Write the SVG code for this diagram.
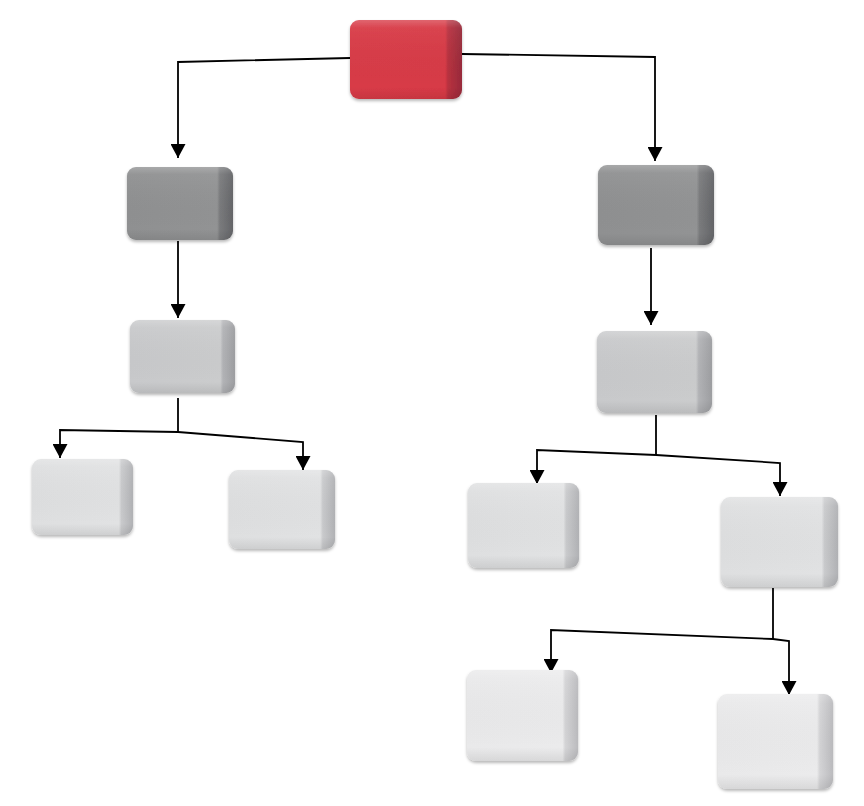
<svg xmlns="http://www.w3.org/2000/svg" width="864" height="806" viewBox="0 0 864 806">
<defs>
<style>
.conn{fill:none;stroke:#000;stroke-width:1.8;marker-end:url(#ah)}
.seg{fill:none;stroke:#000;stroke-width:1.8}
.box{filter:url(#sh)}
.hl{fill:url(#gHl)}
.r{fill:url(#gR)}
.d{fill:url(#gD)}
.m{fill:url(#gM)}
.l{fill:url(#gL)}
.w{fill:url(#gW)}
</style>
<marker id="ah" markerUnits="userSpaceOnUse" markerWidth="15" markerHeight="15" refX="14" refY="7.5" orient="auto">
<path d="M0,0 L14,7.5 L0,15 z" fill="#000"/>
</marker>
<filter id="sh" x="-20%" y="-20%" width="140%" height="150%">
<feDropShadow dx="0" dy="2" stdDeviation="1.8" flood-color="#000" flood-opacity="0.28"/>
</filter>
<linearGradient id="gHl" x1="0" y1="0" x2="0" y2="1">
<stop offset="0" stop-color="#fff" stop-opacity="0.22"/><stop offset="0.1" stop-color="#fff" stop-opacity="0.05"/><stop offset="0.85" stop-color="#000" stop-opacity="0"/><stop offset="1" stop-color="#000" stop-opacity="0.08"/>
</linearGradient>
<linearGradient id="gR" x1="0" y1="0" x2="1" y2="0"><stop offset="0" stop-color="#d83b47"/><stop offset="0.85" stop-color="#d73a46"/><stop offset="0.875" stop-color="#b8313f"/><stop offset="1" stop-color="#982a3a"/></linearGradient>
<linearGradient id="gD" x1="0" y1="0" x2="1" y2="0"><stop offset="0" stop-color="#8f9091"/><stop offset="0.85" stop-color="#929394"/><stop offset="0.875" stop-color="#7a7b7d"/><stop offset="1" stop-color="#646568"/></linearGradient>
<linearGradient id="gM" x1="0" y1="0" x2="1" y2="0"><stop offset="0" stop-color="#c8c9cb"/><stop offset="0.86" stop-color="#cbcccd"/><stop offset="0.885" stop-color="#b2b3b6"/><stop offset="1" stop-color="#9d9ea1"/></linearGradient>
<linearGradient id="gL" x1="0" y1="0" x2="1" y2="0"><stop offset="0" stop-color="#dedfe0"/><stop offset="0.86" stop-color="#e1e2e3"/><stop offset="0.885" stop-color="#c9cacc"/><stop offset="1" stop-color="#b1b2b5"/></linearGradient>
<linearGradient id="gW" x1="0" y1="0" x2="1" y2="0"><stop offset="0" stop-color="#e9e9ea"/><stop offset="0.86" stop-color="#ebebec"/><stop offset="0.885" stop-color="#d4d4d6"/><stop offset="1" stop-color="#bbbbbe"/></linearGradient>
</defs>
<rect width="864" height="806" fill="#fff"/>
<g id="connectors">
<path class="conn" d="M350,58 L178,62 V158"/>
<path class="conn" d="M462,54 L655,57 V161"/>
<path class="conn" d="M178,241 V318"/>
<path class="seg" d="M178,398 V432"/>
<path class="conn" d="M178,432 L60,430 V458"/>
<path class="conn" d="M178,432 L303,442 V470"/>
<path class="conn" d="M651,248 V325"/>
<path class="seg" d="M656,415 V455"/>
<path class="conn" d="M656,455 L537,450 V484"/>
<path class="conn" d="M656,455 L780,463 V496"/>
<path class="seg" d="M773,588 V639"/>
<path class="conn" d="M773,639 L551,630 V673"/>
<path class="conn" d="M773,639 L789,641 V695"/>
</g>
<g id="root" class="box"><rect class="r" x="350" y="20" width="112" height="79" rx="9"/><rect class="hl" x="350" y="20" width="112" height="79" rx="9"/></g>
<g id="l1a" class="box"><rect class="d" x="127" y="167" width="106" height="73" rx="9"/><rect class="hl" x="127" y="167" width="106" height="73" rx="9"/></g>
<g id="l1b" class="box"><rect class="d" x="598" y="165" width="116" height="80" rx="9"/><rect class="hl" x="598" y="165" width="116" height="80" rx="9"/></g>
<g id="l2a" class="box"><rect class="m" x="130" y="320" width="105" height="73" rx="9"/><rect class="hl" x="130" y="320" width="105" height="73" rx="9"/></g>
<g id="l2b" class="box"><rect class="m" x="597" y="331" width="115" height="82" rx="9"/><rect class="hl" x="597" y="331" width="115" height="82" rx="9"/></g>
<g id="l3a" class="box"><rect class="l" x="32" y="459" width="101" height="76" rx="9"/><rect class="hl" x="32" y="459" width="101" height="76" rx="9"/></g>
<g id="l3b" class="box"><rect class="l" x="229" y="470" width="106" height="79" rx="9"/><rect class="hl" x="229" y="470" width="106" height="79" rx="9"/></g>
<g id="l3c" class="box"><rect class="l" x="468" y="483" width="111" height="85" rx="9"/><rect class="hl" x="468" y="483" width="111" height="85" rx="9"/></g>
<g id="l3d" class="box"><rect class="l" x="721" y="497" width="117" height="90" rx="9"/><rect class="hl" x="721" y="497" width="117" height="90" rx="9"/></g>
<g id="l4a" class="box"><rect class="w" x="467" y="670" width="111" height="91" rx="9"/><rect class="hl" x="467" y="670" width="111" height="91" rx="9"/></g>
<g id="l4b" class="box"><rect class="w" x="718" y="694" width="115" height="95" rx="9"/><rect class="hl" x="718" y="694" width="115" height="95" rx="9"/></g>
</svg>
